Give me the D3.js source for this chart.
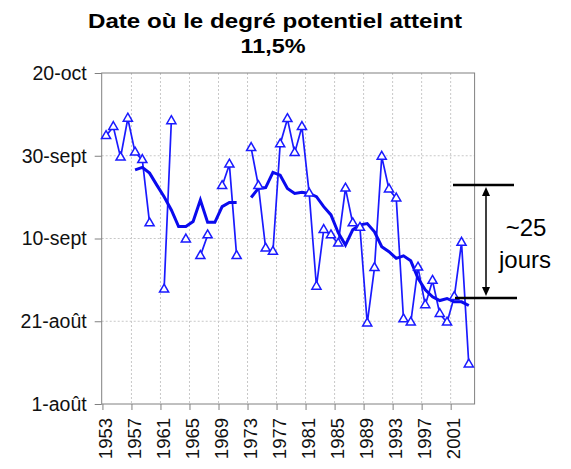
<html>
<head>
    <meta charset="utf-8">
    <title>Date degré potentiel</title>
    <style>
        body { margin: 0; background: white; }
        text { font-family: "Liberation Sans", Arial, sans-serif; }
    </style>
</head>
<body>
<svg id="container" width="571" height="469"></svg>
<script src="https://d3js.org/d3.v7.min.js"></script>
<script>
    // days counted from 1 August
    let years = d3.range(1953, 2004)
    let dates = [64.8, 67.0, 59.6, 69.0, 60.8, 59.0, 43.7, null, 27.7, 68.4,
                 null, 39.8, null, 35.8, 40.8, null, 52.7, 57.9, 35.8, null,
                 61.9, 52.7, 37.6, 36.8, 62.8, 68.9, 60.7, 67.0, 50.9, 28.4,
                 42.1, 40.8, 38.8, 52.1, 43.7, 42.6, 19.5, 32.9, 59.8, 51.9,
                 49.7, 20.5, 19.7, 33.0, 23.9, 29.8, 21.8, 19.7, 25.9, 39.0,
                 9.6]
    let movingAvg = [null, null, null, null, 56.6, 57.2, 55.8, 52.9, 50.1, 46.9,
                     42.9, 42.9, 44.1, 49.3, 43.9, 43.9, 47.7, 48.7, 48.7, null,
                     49.9, 52.1, 52.3, 56.0, 55.3, 52.1, 50.9, 51.2, 50.9, 50.1,
                     47.7, 45.7, 41.4, 38.4, 42.1, 43.3, 43.6, 41.6, 38.0, 36.8,
                     35.2, 35.8, 34.6, 30.4, 27.6, 25.9, 25.0, 25.5, 24.7, 24.7,
                     23.8]
    let yTicks = [0, 20, 40, 60, 80]
    let yTickLabels = ["1-août", "21-août", "10-sept", "30-sept", "20-oct"]
    let xTickYears = d3.range(1953, 2002, 4)

    let container = d3.select("#container")
    let plotLeft = 101.7, plotRight = 474.6, plotTop = 73, plotBottom = 404

    let x = d3.scaleLinear().domain([1952.4, 2003.8]).range([plotLeft, plotRight])
    let y = d3.scaleLinear().domain([0, 80]).range([plotBottom, plotTop])

    let rows = years.map((yr, i) => ({ year: yr, v: dates[i], m: movingAvg[i] }))

    // gridlines
    container.append("g").selectAll("line")
        .data(yTicks.slice(1, 4))
        .join("line")
        .attr("x1", plotLeft).attr("x2", plotRight)
        .attr("y1", d => y(d)).attr("y2", d => y(d))
        .style("stroke", "#c8c8c8").style("stroke-dasharray", "2,2")
    container.append("g").selectAll("line")
        .data(xTickYears.slice(1))
        .join("line")
        .attr("x1", d => x(d - 0.5)).attr("x2", d => x(d - 0.5))
        .attr("y1", plotTop).attr("y2", plotBottom)
        .style("stroke", "#c8c8c8").style("stroke-dasharray", "2,2")

    // frame
    container.append("rect")
        .attr("x", plotLeft).attr("y", plotTop)
        .attr("width", plotRight - plotLeft).attr("height", plotBottom - plotTop)
        .style("fill", "none").style("stroke", "#808080")

    // y axis
    let yAxis = d3.axisLeft(y)
        .tickValues(yTicks)
        .tickSize(7)
        .tickFormat((d, i) => yTickLabels[i])
    let yg = container.append("g")
        .attr("transform", `translate(${plotLeft},0)`)
        .call(yAxis)
        .attr("font-size", 19.5)
        .attr("font-family", "Liberation Sans, Arial, sans-serif")
    yg.select(".domain").remove()
    yg.selectAll("line").style("stroke", "#808080")
    yg.selectAll("text")
        .style("fill", "#111")
        .attr("x", -15)

    // x axis
    let xAxis = d3.axisBottom(x)
        .tickValues(xTickYears.map(d => d - 0.5))
        .tickSize(6)
        .tickFormat(d => d + 0.5)
    let xg = container.append("g")
        .attr("transform", `translate(0,${plotBottom})`)
        .call(xAxis)
        .attr("font-size", 18.5)
        .attr("font-family", "Liberation Sans, Arial, sans-serif")
    xg.select(".domain").remove()
    xg.selectAll("line").style("stroke", "#808080")
    xg.selectAll("text")
        .style("fill", "#111")
        .attr("transform", "rotate(-90)")
        .attr("text-anchor", "end")
        .attr("x", -14).attr("y", 2.5).attr("dy", "0.35em")

    // data line
    let dataLine = d3.line()
        .defined(d => d.v != null)
        .x(d => x(d.year)).y(d => y(d.v))
    container.append("path")
        .datum(rows)
        .attr("d", dataLine)
        .style("fill", "none").style("stroke", "#1a1aff").style("stroke-width", 1.7)

    // moving average
    let maLine = d3.line()
        .defined(d => d.m != null)
        .x(d => x(d.year)).y(d => y(d.m))
    container.append("path")
        .datum(rows)
        .attr("d", maLine)
        .style("fill", "none").style("stroke", "#0a0aee").style("stroke-width", 3)

    // markers
    container.append("g").selectAll("path")
        .data(rows.filter(d => d.v != null))
        .join("path")
        .attr("d", d3.symbol(d3.symbolTriangle, 36))
        .attr("transform", d => `translate(${x(d.year)},${y(d.v)})`)
        .style("fill", "white").style("stroke", "#1a1aff").style("stroke-width", 1.5)

    // title
    container.append("text")
        .attr("x", 275).attr("y", 28)
        .attr("text-anchor", "middle")
        .attr("textLength", 374).attr("lengthAdjust", "spacingAndGlyphs")
        .style("font-size", "19.5px").style("font-weight", "bold")
        .text("Date où le degré potentiel atteint")
    container.append("text")
        .attr("x", 273).attr("y", 53)
        .attr("text-anchor", "middle")
        .attr("textLength", 65).attr("lengthAdjust", "spacingAndGlyphs")
        .style("font-size", "19.5px").style("font-weight", "bold")
        .text("11,5%")

    // annotation
    let ann = container.append("g")
    ann.append("line").attr("x1", 453).attr("x2", 514).attr("y1", 185).attr("y2", 185)
        .style("stroke", "black").style("stroke-width", 2.5)
    ann.append("line").attr("x1", 455).attr("x2", 517).attr("y1", 298).attr("y2", 298)
        .style("stroke", "black").style("stroke-width", 2.5)
    ann.append("line").attr("x1", 486).attr("x2", 486).attr("y1", 192).attr("y2", 291)
        .style("stroke", "black").style("stroke-width", 1.5)
    ann.append("path").attr("d", "M486,187 L482,196 L490,196 Z").style("fill", "black")
    ann.append("path").attr("d", "M486,296 L482,287 L490,287 Z").style("fill", "black")
    ann.append("text").attr("x", 526).attr("y", 236)
        .attr("text-anchor", "middle").style("font-size", "24px").text("~25")
    ann.append("text").attr("x", 525).attr("y", 268)
        .attr("text-anchor", "middle").style("font-size", "24px").text("jours")
</script>
</body>
</html>
